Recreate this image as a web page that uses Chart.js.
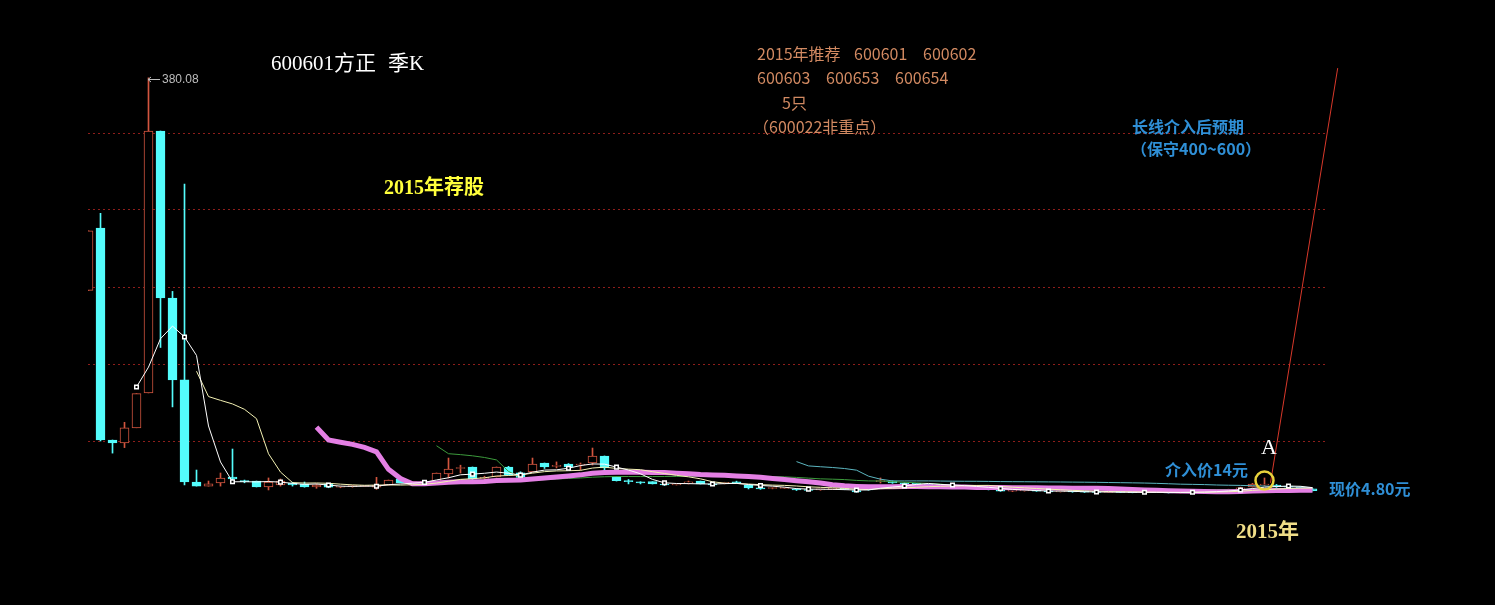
<!DOCTYPE html>
<html>
<head>
<meta charset="utf-8">
<script src="https://cdn.jsdelivr.net/npm/chart.js@4/dist/chart.umd.min.js"></script>
<style>
	body { margin: 0; background: #000; }
	#wrap { position: relative; width: 1495px; height: 605px; overflow: hidden; }
	.t { position: absolute; white-space: pre; line-height: 1; }
	.serif { font-family: "Liberation Serif", "Noto Sans CJK SC", serif; }
	.sans { font-family: "Noto Sans CJK SC", sans-serif; }
	.salmon { color: #d28a62; font-size: 16px; }
	.blue { color: #2f8fd6; font-size: 16px; font-weight: bold; }
</style>
</head>
<body>
<div id="wrap">
	<canvas id="kChart" width="1495" height="605"></canvas>

	<div class="t serif" style="left:271px;top:53px;font-size:21px;color:#fff;">600601方正</div>
	<div class="t serif" style="left:388px;top:53px;font-size:21px;color:#fff;">季K</div>
	<div class="t serif" style="left:384px;top:177px;font-size:20px;font-weight:bold;color:#ffff3c;">2015年荐股</div>

	<div class="t sans salmon" style="left:757px;top:45px;">2015年推荐</div>
	<div class="t sans salmon" style="left:854px;top:45px;">600601</div>
	<div class="t sans salmon" style="left:923px;top:45px;">600602</div>
	<div class="t sans salmon" style="left:757px;top:69px;">600603</div>
	<div class="t sans salmon" style="left:826px;top:69px;">600653</div>
	<div class="t sans salmon" style="left:895px;top:69px;">600654</div>
	<div class="t sans salmon" style="left:782px;top:94px;">5只</div>
	<div class="t sans salmon" style="left:753px;top:118px;">（600022非重点）</div>

	<div class="t sans blue" style="left:1132px;top:118px;">长线介入后预期</div>
	<div class="t sans blue" style="left:1131px;top:140px;">（保守400~600）</div>

	<div class="t serif" style="left:1261px;top:436px;font-size:22px;color:#fff;">A</div>
	<div class="t sans blue" style="left:1165px;top:461px;">介入价14元</div>
	<div class="t sans blue" style="left:1329px;top:480px;">现价4.80元</div>
	<div class="t serif" style="left:1236px;top:521px;font-size:21px;font-weight:bold;color:#f0de88;">2015年</div>

	<svg style="position:absolute;left:147px;top:75px;" width="14" height="9">
		<line x1="1" y1="4.5" x2="13" y2="4.5" stroke="#bdbdbd" stroke-width="1"/>
		<polyline points="4,2 1,4.5 4,7" fill="none" stroke="#bdbdbd" stroke-width="1"/>
	</svg>
	<div class="t" style="left:162px;top:73px;font-size:12px;color:#bdbdbd;font-family:'Liberation Sans',sans-serif;">380.08</div>
</div>

<script>
// quarterly K bars, index 0 is cut by the left edge
const opens = [
	187, 243.6, 50.9, 48.2, 62, 93.6, 331.8, 180, 105.5, 12.7,
	9, 11.8, 17.3, 13.8, 13.6, 8.2, 10, 11.8, 10.9, 8.2,
	11, 8, 8.5, 8.8, 8, 10, 15.5, 12, 12.5, 12.7,
	20, 25, 26.4, 16, 17.3, 26.4, 21, 21.8, 30, 27,
	29, 28.2, 30, 36.4, 17, 13.6, 12.7, 13, 10.9, 10,
	12, 13.6, 11, 11.5, 12.7, 10, 7.3, 6.8, 7, 6.4,
	5.5, 5.5, 6, 6.4, 5, 6, 13, 13.6, 11.5, 11,
	10.5, 9.8, 9.5, 8.8, 7.8, 6.8, 5.8, 4.5, 4.6, 5.2,
	4.4, 3.8, 4.2, 3.6, 3.5, 3.2, 3.6, 3.3, 3.1, 3.4,
	3.2, 2.9, 3.3, 4, 4.4, 5.2, 6, 8.2, 10, 10,
	8.2, 8, 6.5
];
const highs = [
	241, 257, 50.9, 67, 93, 380.08, 331.8, 186, 283.6, 23.6,
	13.6, 20.9, 42.7, 14.5, 13.6, 16.4, 15.5, 12.5, 12.7, 10.9,
	11.5, 9, 9.5, 9.5, 17, 14.5, 16, 13, 13.5, 20.9,
	34.5, 28, 26.4, 18, 26.4, 27, 22, 34.5, 30, 31,
	29.5, 30, 43.6, 36.4, 17.5, 15, 13, 13, 11.5, 11,
	13.6, 13.6, 11.5, 12.5, 13.5, 10, 7.5, 7.5, 7.6, 6.6,
	5.8, 6.2, 6.6, 6.5, 5.2, 6.5, 16.4, 13.8, 12, 11.3,
	10.8, 10.2, 9.8, 9, 8, 7, 6, 5, 5.5, 5.4,
	4.6, 4.5, 4.4, 4, 3.8, 3.8, 3.9, 3.6, 3.6, 3.7,
	3.4, 3.5, 4.2, 4.6, 5.5, 6.2, 8, 11.5, 16.4, 10.5,
	9, 8.5, 6.8
];
const lows = [
	187, 50, 39, 44, 62, 93.6, 135, 81, 10, 9,
	9, 9, 14.5, 12, 8.2, 5.5, 9, 9, 8, 7,
	7.5, 7.5, 8, 8.5, 6, 10, 12, 11.5, 12, 12.7,
	16.4, 20.9, 14, 15, 17.3, 19, 16, 21.8, 25, 25.5,
	26, 23.6, 28.2, 23, 13.6, 11, 11, 10.9, 9.5, 10,
	10.9, 10.9, 10, 11, 11.5, 6.4, 6, 6.5, 6.8, 5,
	4.8, 5.2, 5.8, 5.7, 3.4, 5.3, 11.8, 11.5, 10.8, 10.2,
	9.6, 9, 8.6, 7.8, 6.5, 5.5, 4.2, 4, 4.4, 4.2,
	3.5, 3.6, 3.4, 3.2, 3, 3.1, 3.1, 2.9, 3, 3,
	2.7, 2.8, 3.2, 3.8, 4.2, 5, 5.8, 8, 9.5, 7.8,
	7.5, 6, 4.6
];
const closes = [
	241, 50.9, 48.2, 62, 93, 331.8, 180, 105.5, 12.7, 9,
	11, 16.4, 15.5, 13, 8.2, 12.7, 13.6, 10, 8.2, 10,
	8, 8.5, 9, 9.2, 10, 14.5, 12, 12.5, 13, 20.9,
	24.5, 25.5, 15.5, 17, 26.4, 19, 17, 29, 26.4, 27.5,
	26.4, 29, 36.4, 25.5, 14, 13, 12, 10.9, 10, 10.9,
	12.5, 10.9, 10, 12, 12, 7.3, 6.5, 7, 7.3, 5.5,
	5, 6, 6.4, 6, 3.6, 5.5, 13.8, 11.8, 11, 10.5,
	10, 9.5, 9, 8, 7, 6, 4.5, 4.6, 5.2, 4.4,
	3.8, 4.2, 3.6, 3.5, 3.2, 3.6, 3.3, 3.1, 3.4, 3.2,
	2.9, 3.3, 4, 4.4, 5.2, 6, 7.5, 10.9, 10.5, 8.2,
	8, 6.5, 4.8
];

const maPeriods = [5, 10, 20, 30, 60];
const maColors = ["#ffffff", "#f4f2b4", "#e47fe4", "#3c9a3c", "#5cb6c0"];
const maWidths = [1, 1, 5, 1, 1];

const gridLevels = [50, 120, 190, 260, 330];

// projection line from the entry point and the entry marker
const projectionX = [98.5, 104.1];
const projectionY = [12, 389];
const entryPoint = { x: 98, y: 14 };

const upColor = "#d2553f";
const downColor = "#54fcfc";

function isUp(i) {
	return closes[i] >= opens[i];
}

function movingAverage(period) {
	return closes.map((c, i) => {
		if (i < period - 1) return { x: i, y: null };
		let sum = 0;
		for (let k = i - period + 1; k <= i; k++) sum += closes[k];
		return { x: i, y: sum / period };
	});
}

function buildDatasets() {
	const datasets = [];

	maPeriods.forEach((period, n) => {
		datasets.push({
			type: "line",
			label: "MA" + period,
			data: movingAverage(period),
			borderColor: maColors[n],
			borderWidth: maWidths[n],
			tension: 0,
			spanGaps: false,
			pointRadius: period === 5
				? (ctx) => (ctx.dataIndex % 4 === 0 && ctx.dataIndex > 0 ? 2.5 : 0)
				: 0,
			pointStyle: "rect",
			pointBackgroundColor: "#000",
			pointBorderColor: "#fff",
			pointBorderWidth: 1.5,
			order: n + 1,
		});
	});

	datasets.push({
		type: "bar",
		label: "body",
		data: closes.map((c, i) => ({ x: i, y: [opens[i], c] })),
		backgroundColor: closes.map((c, i) => (isUp(i) ? "#000" : downColor)),
		borderColor: closes.map((c, i) => (isUp(i) ? upColor : downColor)),
		borderWidth: 1,
		borderSkipped: false,
		barThickness: 9,
		minBarLength: 1,
		grouped: false,
		order: 10,
	});

	datasets.push({
		type: "bar",
		label: "wick",
		data: closes.map((c, i) => ({ x: i, y: [lows[i], highs[i]] })),
		backgroundColor: closes.map((c, i) => (isUp(i) ? upColor : downColor)),
		borderWidth: 0,
		barThickness: 1,
		grouped: false,
		order: 11,
	});

	datasets.push({
		type: "line",
		label: "projection",
		data: projectionX.map((x, i) => ({ x: x, y: projectionY[i] })),
		borderColor: "#d8382a",
		borderWidth: 1,
		pointRadius: 0,
		clip: false,
		order: 0,
	});

	datasets.push({
		type: "line",
		label: "entry",
		data: [entryPoint],
		showLine: false,
		pointRadius: 9,
		pointBorderWidth: 2.5,
		pointBorderColor: "#e8d23c",
		pointBackgroundColor: "rgba(0,0,0,0)",
		order: -1,
	});

	return datasets;
}

function initChart() {
	const ctx = document.getElementById("kChart");
	const xMin = -0.5 / 12;

	return new Chart(ctx, {
		type: "bar",
		data: { datasets: buildDatasets() },
		options: {
			responsive: false,
			animation: false,
			devicePixelRatio: 1,
			layout: {
				padding: { left: 88, right: 167, top: 45, bottom: 98 },
			},
			plugins: {
				legend: { display: false },
				tooltip: { enabled: false },
			},
			scales: {
				x: {
					type: "linear",
					display: false,
					offset: false,
					grid: { offset: false },
					min: xMin,
					max: xMin + 1240 / 12,
				},
				y: {
					type: "linear",
					min: -10,
					max: 410,
					afterBuildTicks: (scale) => {
						scale.ticks = gridLevels.map((v) => ({ value: v }));
					},
					ticks: { display: false },
					grid: {
						color: "rgba(150,32,28,0.95)",
						lineWidth: 1,
						drawTicks: false,
					},
					border: { display: false, dash: [2, 3] },
				},
			},
		},
	});
}

initChart();
</script>
</body>
</html>
